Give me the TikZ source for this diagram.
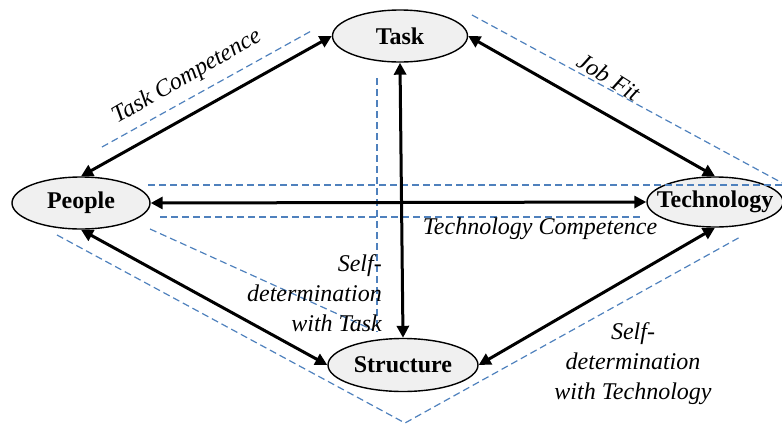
\documentclass[tikz,border=0pt]{standalone}
\usepackage{fontspec}
\setmainfont{Liberation Serif}
\newfontfamily\serifface{Liberation Serif}
\usetikzlibrary{arrows.meta,shapes.geometric}
\definecolor{dashblue}{RGB}{79,129,189}
\definecolor{nodefill}{RGB}{240,240,240}
\begin{document}
\begin{tikzpicture}[x=1pt,y=-1pt,
  ent/.style={ellipse,draw,line width=1.4pt,fill=nodefill,inner sep=0pt,font=\serifface\fontsize{24}{29}\selectfont\bfseries},
  link/.style={line width=3pt,{Triangle[length=12pt,width=12pt]}-{Triangle[length=12pt,width=12pt]}},
  guide/.style={draw=dashblue,line width=1.2pt,dash pattern=on 7pt off 4pt},
  lbl/.style={font=\serifface\fontsize{24}{30}\selectfont\itshape,inner sep=0pt}]
\useasboundingbox (0,0) rectangle (782,426);
% guides
\coordinate (g1a) at (102,147); \coordinate (g1b) at (313,30);
\coordinate (g2a) at (472,15);  \coordinate (g2b) at (786,185);
\coordinate (g3a) at (148,185); \coordinate (g3b) at (786,185);
\coordinate (g4a) at (160,217); \coordinate (g4b) at (640,217);
\coordinate (g5a) at (377,78);  \coordinate (g5b) at (377,332);
\coordinate (g6a) at (150,229); \coordinate (g6b) at (373,330);
\coordinate (g7a) at (57,235);  \coordinate (g7b) at (405,423); \coordinate (g7c) at (742,236);
% entities
\node[ent,minimum width=135pt,minimum height=52pt] (task) at (400,36) {\makebox[0pt]{Task}};
\node[ent,minimum width=138pt,minimum height=52pt] (people) at (81,203) {\makebox[0pt]{People}};
\node[ent,minimum width=136pt,minimum height=50pt] (tech) at (715,202) {\makebox[0pt]{Technology}};
\node[ent,minimum width=150pt,minimum height=53pt] (struct) at (403,365) {\makebox[0pt]{Structure}};
% dashed guides
\draw[guide] (g1a) -- (g1b);
\draw[guide] (g2a) -- (g2b);
\draw[guide] (g3a) -- (g3b);
\draw[guide] (g4a) -- (g4b);
\draw[guide] (g5a) -- (g5b);
\draw[guide] (g6a) -- (g6b);
\draw[guide] (g7a) -- (g7b) -- (g7c);
% links
\draw[link] (task.west) -- (people.north);
\draw[link] (task.east) -- (tech.north);
\draw[link] (people.east) -- (tech.west);
\draw[link] (task.south) -- (struct.north);
\draw[link] (people.south) -- (struct.west);
\draw[link] (tech.south) -- (struct.east);
% labels
\node[lbl,rotate=30] (l1) at (187,77) {Task Competence};
\node[lbl,rotate=-32] (l2) at (609,77) {Job Fit};
\node[lbl] (l3) at (540,229) {Technology Competence};
\node[lbl,align=right,anchor=east] (l4) at (382,293) {Self-\\determination\\with Task};
\node[lbl,align=center] (l5) at (633,364) {Self-\\determination\\with Technology};
\end{tikzpicture}
\end{document}
